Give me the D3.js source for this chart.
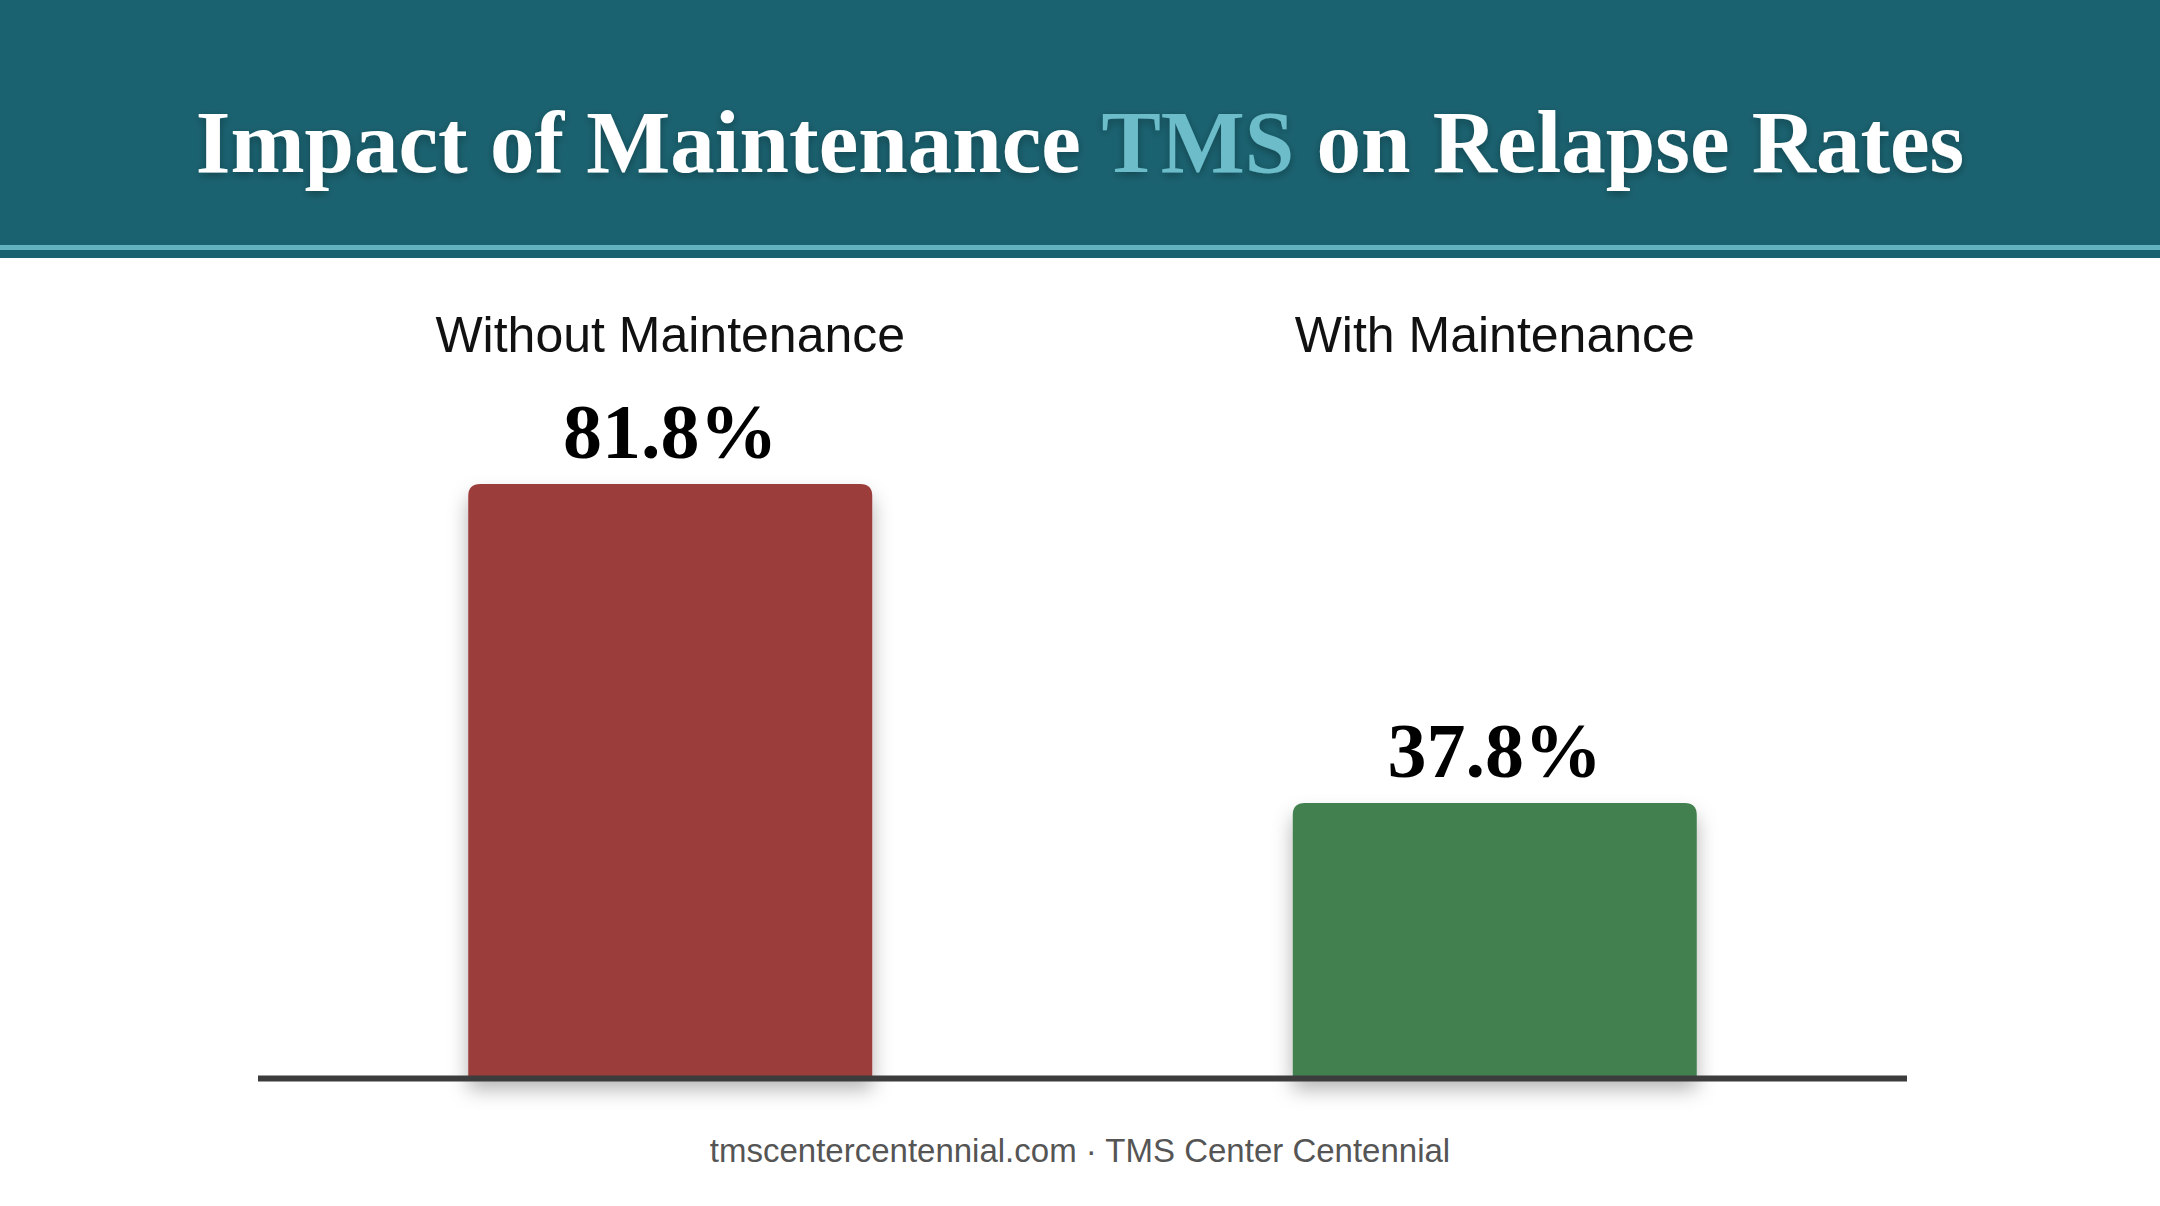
<!DOCTYPE html>
<html>
<head>
<meta charset="utf-8">
<script src="https://cdn.jsdelivr.net/npm/d3@7"></script>
<style>
  html, body { margin: 0; padding: 0; background: #ffffff; }
  svg { display: block; }
</style>
</head>
<body>
<script>
const categories = ["Without Maintenance", "With Maintenance"];
const relapseRates = [81.8, 37.8];
const valueLabels = ["81.8%", "37.8%"];
const barColors = ["#9b3d3b", "#42804f"];
const titleParts = ["Impact of Maintenance ", "TMS", " on Relapse Rates"];
const footerText = "tmscentercentennial.com · TMS Center Centennial";

const W = 2160, H = 1206;
const svg = d3.select("body").append("svg").attr("width", W).attr("height", H);

const defs = svg.append("defs");
const sh = defs.append("filter").attr("id", "shadow").attr("x", "-20%").attr("y", "-20%").attr("width", "140%").attr("height", "150%");
sh.append("feDropShadow").attr("dx", 0).attr("dy", 12).attr("stdDeviation", 10).attr("flood-color", "#000").attr("flood-opacity", 0.3);
const tsh = defs.append("filter").attr("id", "tshadow").attr("x", "-5%").attr("y", "-30%").attr("width", "110%").attr("height", "160%");
tsh.append("feDropShadow").attr("dx", 0).attr("dy", 3).attr("stdDeviation", 4).attr("flood-color", "#000").attr("flood-opacity", 0.3);

// Header
svg.append("rect").attr("x", 0).attr("y", 0).attr("width", W).attr("height", 258).attr("fill", "#1b6270");
svg.append("rect").attr("x", 0).attr("y", 245).attr("width", W).attr("height", 5).attr("fill", "#62b2c0");

const title = svg.append("text")
  .attr("x", 1080).attr("y", 172)
  .attr("text-anchor", "middle")
  .attr("font-family", "'Liberation Serif', 'DejaVu Serif', serif")
  .attr("font-weight", "bold")
  .attr("font-size", 89)
  .attr("fill", "#ffffff")
  .attr("filter", "url(#tshadow)");
title.selectAll("tspan").data(titleParts).join("tspan")
  .attr("fill", (d, i) => i === 1 ? "#6cbdc9" : "#ffffff")
  .text(d => d);

// Scales
const x = d3.scaleBand().domain(categories).range([258, 1907]).paddingInner(0.51).paddingOuter(0.255);
const y = d3.scaleLinear().domain([0, 100]).range([1077, 352]);

const g = svg.append("g");

// Bars (rounded top corners)
function barPath(x0, y0, w, h, r) {
  return `M${x0},${y0 + h}V${y0 + r}Q${x0},${y0} ${x0 + r},${y0}H${x0 + w - r}Q${x0 + w},${y0} ${x0 + w},${y0 + r}V${y0 + h}Z`;
}
g.selectAll("path.bar").data(categories).join("path")
  .attr("class", "bar")
  .attr("d", (d, i) => barPath(x(d), y(relapseRates[i]), x.bandwidth(), y(0) - y(relapseRates[i]), 12))
  .attr("fill", (d, i) => barColors[i])
  .attr("filter", "url(#shadow)");

// Axis baseline
const axis = g.append("g").attr("transform", `translate(0,${y(0)})`)
  .call(d3.axisBottom(x).tickSize(0).tickFormat(""));
axis.select(".domain").attr("stroke", "#3c3c3c").attr("stroke-width", 6)
  .attr("d", `M${x.range()[0]},1.5H${x.range()[1]}`);

// Category labels
g.selectAll("text.cat").data(categories).join("text")
  .attr("class", "cat")
  .attr("x", d => x(d) + x.bandwidth() / 2)
  .attr("y", 352)
  .attr("text-anchor", "middle")
  .attr("font-family", "'Liberation Sans', Arial, sans-serif")
  .attr("font-size", 50)
  .attr("fill", "#111111")
  .text(d => d);

// Value labels
g.selectAll("text.val").data(categories).join("text")
  .attr("class", "val")
  .attr("x", d => x(d) + x.bandwidth() / 2)
  .attr("y", (d, i) => y(relapseRates[i]) - 26)
  .attr("text-anchor", "middle")
  .attr("font-family", "'Liberation Serif', 'DejaVu Serif', serif")
  .attr("font-weight", "bold")
  .attr("font-size", 78)
  .attr("fill", "#000000")
  .text((d, i) => valueLabels[i]);

// Footer
svg.append("text")
  .attr("x", 1080).attr("y", 1162)
  .attr("text-anchor", "middle")
  .attr("font-family", "'Liberation Sans', Arial, sans-serif")
  .attr("font-size", 33)
  .attr("fill", "#555555")
  .text(footerText);
</script>
</body>
</html>
